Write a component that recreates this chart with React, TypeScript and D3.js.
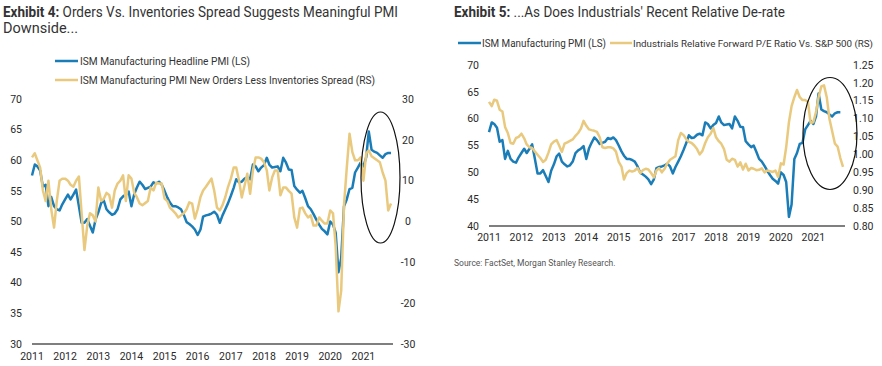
import React from 'react';
import * as d3 from 'd3';

// monthly, Jan 2011 - Nov 2021
const pmi = [
  57.5, 59.3, 59, 58.3, 55.7, 56, 52.5, 54, 52.5, 52, 51.8, 52.8,
  53.6, 54.4, 53.6, 54.4, 55.2, 52.5, 49.8, 49.8, 50.4, 49.3, 48.2, 50.3,
  51.5, 53, 53.5, 52, 51.5, 51.1, 51.3, 52, 53.6, 54.1, 54.4, 54.9,
  52.5, 54.5, 55.5, 56.5, 56, 55.3, 55.5, 55.7, 56.4, 56.2, 56.5, 56,
  55, 53.9, 53.1, 52.5, 52.5, 52.3, 52, 51.1, 49.9, 49.6, 49.2, 48.7,
  47.8, 48.7, 50.8, 51, 51.1, 51.3, 51.6, 51.1, 49.8, 51, 52, 53,
  54.2, 55.5, 56.9, 56.4, 56.5, 57, 57.2, 56.9, 59.3, 59, 58.2, 58.8,
  59.2, 60.4, 59.3, 58.8, 58.9, 59, 58.2, 60.4, 59.6, 58.5, 58.4, 55.8,
  55.2, 54.7, 55, 53.8, 52.5, 52, 51.2, 50.3, 49.5, 48.8, 48.4, 47.9,
  50, 49.5, 48.2, 41.7, 44, 52.5, 53.6, 55.3, 55.5, 58, 58.8, 59.6,
  59, 60.5, 64.7, 61.7, 61.4, 61.2, 60.8, 60.4, 61, 61.2, 61.2,
];

const spread = [
  15.7, 16.7, 15, 13.2, 7.6, 5, 10, 3, -1.5, 5, 10, 10.5,
  10.5, 10, 9, 8.5, 10, 11, 2, -7, -1, 2, 1.5, 0,
  8.3, 5, 5.5, 7, 6.5, 3.4, 7.6, 9.3, 10, 11.3, 5, 11.3,
  10.5, 7, 6, 4.4, 4, 4.5, 5, 8.3, 7.6, 9.5, 9.3, 9.3,
  5.6, 5, 3.4, 2.7, 2, 1, 1.5, 2, 3, 4.7, 4.4, 0.7,
  3, 6, 7.6, 8.5, 9.5, 10.5, 7.6, 3.4, 2.7, 4, 6, 8.5,
  10.5, 13.2, 13.2, 10, 5.9, 8.8, 11.7, 6.8, 12.5, 15.7, 15.7, 15.4,
  14.5, 12.5, 7.6, 10.8, 12.5, 12.5, 6.4, 8.3, 8.3, 7.5, 6.8, 1,
  -1.5, 3.2, 3.4, 2, 1, 1.5, -1, -1, 1, 0.2, -0.5, -0.5,
  2.7, 2, -6, -22, -17, 4, 13, 21.5, 17, 15, 15, 15.7,
  10, 16.7, 17.4, 16, 15.5, 15, 14.5, 12, 10, 2.7, 4.4,
];

// monthly, Jan 2011 - Dec 2021
const relPE = [
  1.147, 1.135, 1.153, 1.15, 1.125, 1.12, 1.077, 1.06, 1.032, 1.03, 1.046, 1.049,
  1.058, 1.045, 1.028, 1.02, 1.018, 1.008, 0.999, 0.99, 0.979, 0.985, 1.005, 1.028,
  1.036, 1.04, 1.025, 1.007, 1.03, 1.034, 1.038, 1.042, 1.052, 1.06, 1.072, 1.094,
  1.08, 1.07, 1.068, 1.066, 1.063, 1.048, 1.02, 1.018, 1.02, 1.02, 1.017, 1.008,
  0.979, 0.966, 0.93, 0.948, 0.955, 0.952, 0.955, 0.962, 0.948, 0.956, 0.96, 0.958,
  0.948, 0.936, 0.955, 0.962, 0.95, 0.96, 0.975, 0.985, 0.99, 0.995, 1.04, 1.06,
  1.054, 1.042, 1.035, 1.032, 1.025, 1.015, 1.0, 1.01, 1.032, 1.048, 1.058, 1.074,
  1.048, 1.037, 1.03, 1.015, 0.985, 0.98, 0.988, 0.985, 0.966, 0.978, 0.958, 0.974,
  0.955, 0.962, 0.96, 0.956, 0.957, 0.961, 0.95, 0.955, 0.953, 0.951, 0.955, 0.937,
  0.975, 0.972, 1.02, 1.09, 1.135, 1.16, 1.18, 1.16, 1.152, 1.152, 1.148, 1.088,
  1.09, 1.12, 1.16, 1.19, 1.193, 1.16, 1.1, 1.065, 1.03, 1.022, 0.99, 0.965,
];

const years = [2011, 2012, 2013, 2014, 2015, 2016, 2017, 2018, 2019, 2020, 2021];
const leftTicks4 = [30, 35, 40, 45, 50, 55, 60, 65, 70];
const rightTicks4 = [-30, -20, -10, 0, 10, 20, 30];
const leftTicks5 = [40, 45, 50, 55, 60, 65, 70];
const rightTicks5 = [0.8, 0.85, 0.9, 0.95, 1.0, 1.05, 1.1, 1.15, 1.2, 1.25];

const BLUE = '#1b7db8';
const GOLD = '#e9c97e';
const FONT = 'Roboto, Arial, sans-serif';

const monthDate = (i: number) => d3.timeMonth.offset(new Date(2011, 0, 1), i);

export default function App() {
  // Exhibit 4
  const x4 = d3.scaleTime().domain([monthDate(0), monthDate(130)]).range([32, 391]);
  const yL4 = d3.scaleLinear().domain([30, 70]).range([344, 99]);
  const yR4 = d3.scaleLinear().domain([-30, 30]).range([344, 99]);
  const linePmi4 = d3.line<number>().x((_, i) => x4(monthDate(i))).y(d => yL4(d));
  const lineSpread = d3.line<number>().x((_, i) => x4(monthDate(i))).y(d => yR4(d));

  // Exhibit 5
  const x5 = d3.scaleTime().domain([monthDate(0), monthDate(131)]).range([489, 843]);
  const yL5 = d3.scaleLinear().domain([40, 70]).range([226, 65]);
  const yR5 = d3.scaleLinear().domain([0.8, 1.25]).range([226, 65]);
  const linePmi5 = d3.line<number>().x((_, i) => x5(monthDate(i))).y(d => yL5(d));
  const linePE = d3.line<number>().x((_, i) => x5(monthDate(i))).y(d => yR5(d));

  const tickStyle = { fontFamily: FONT, fontSize: 10.5, fill: '#2a2a2a' };
  const legStyle = { fontFamily: FONT, fill: '#333', lengthAdjust: 'spacingAndGlyphs' as const };

  return (
    <svg width={882} height={366} style={{ position: 'absolute', left: 0, top: 0, background: '#fff' }}>
      {/* titles */}
      <text x={3} y={17} fontFamily={FONT} fontSize={14.5} fill="#333" textLength={395} lengthAdjust="spacingAndGlyphs">
        <tspan fontWeight="bold">Exhibit 4:</tspan>
        <tspan>{'  Orders Vs. Inventories Spread Suggests Meaningful PMI'}</tspan>
      </text>
      <text x={3} y={33} fontFamily={FONT} fontSize={14.5} fill="#333">Downside...</text>
      <text x={454} y={17} fontFamily={FONT} fontSize={13.8} fill="#333" textLength={331} lengthAdjust="spacingAndGlyphs">
        <tspan fontWeight="bold">Exhibit 5:</tspan>
        <tspan>{'  ...As Does Industrials\' Recent Relative De-rate'}</tspan>
      </text>

      {/* legend 4 */}
      <line x1={55} x2={78} y1={61} y2={61} stroke={BLUE} strokeWidth={2.5} />
      <text x={80} y={64.5} fontSize={10.5} {...legStyle} textLength={170}>ISM Manufacturing Headline PMI (LS)</text>
      <line x1={55} x2={78} y1={80} y2={80} stroke={GOLD} strokeWidth={2.5} />
      <text x={80} y={83.5} fontSize={10.5} {...legStyle} textLength={295}>ISM Manufacturing PMI New Orders Less Inventories Spread (RS)</text>

      {/* legend 5 */}
      <line x1={458} x2={481} y1={43} y2={43} stroke={BLUE} strokeWidth={2.5} />
      <text x={482} y={46.5} fontSize={10} {...legStyle} textLength={124}>ISM Manufacturing PMI (LS)</text>
      <line x1={610} x2={632} y1={43} y2={43} stroke={GOLD} strokeWidth={2.5} />
      <text x={633} y={46.5} fontSize={9.8} {...legStyle} textLength={240}>Industrials Relative Forward P/E Ratio Vs. S&amp;P 500 (RS)</text>

      {/* Exhibit 4 axes */}
      {leftTicks4.map(t => (
        <text key={'l4' + t} x={22} y={yL4(t)} dy="0.35em" textAnchor="end" {...tickStyle}>{t}</text>
      ))}
      {rightTicks4.map(t => (
        <text key={'r4' + t} x={408} y={yR4(t)} dy="0.35em" textAnchor="middle" {...tickStyle}>{t}</text>
      ))}
      {years.map(y => (
        <text key={'x4' + y} x={x4(new Date(y, 0, 1))} y={360} textAnchor="middle" {...tickStyle}>{y}</text>
      ))}
      <line x1={32} x2={393} y1={344} y2={344} stroke="#555" strokeWidth={1.5} />

      <path d={linePmi4(pmi) || ''} fill="none" stroke={BLUE} strokeWidth={2.5} strokeLinejoin="round" />
      <path d={lineSpread(spread) || ''} fill="none" stroke={GOLD} strokeWidth={2.5} strokeLinejoin="round" />
      <ellipse cx={380.5} cy={177.5} rx={19.5} ry={65.5} fill="none" stroke="#111" strokeWidth={1.2} />

      {/* Exhibit 5 axes */}
      {leftTicks5.map(t => (
        <text key={'l5' + t} x={479} y={yL5(t)} dy="0.35em" textAnchor="end" {...tickStyle}>{t}</text>
      ))}
      {rightTicks5.map(t => (
        <text key={'r5' + t} x={853} y={yR5(t)} dy="0.35em" textAnchor="start" {...tickStyle}>{t.toFixed(2)}</text>
      ))}
      {years.map(y => (
        <text key={'x5' + y} x={x5(new Date(y, 0, 1))} y={241} textAnchor="middle" {...tickStyle}>{y}</text>
      ))}
      <line x1={489} x2={845} y1={226} y2={226} stroke="#555" strokeWidth={1.5} />

      <path d={linePmi5(pmi) || ''} fill="none" stroke={BLUE} strokeWidth={2.5} strokeLinejoin="round" />
      <path d={linePE(relPE) || ''} fill="none" stroke={GOLD} strokeWidth={2.5} strokeLinejoin="round" />
      <ellipse cx={830} cy={133.5} rx={27} ry={56} fill="none" stroke="#111" strokeWidth={1.2} />

      <text x={454} y={266} fontFamily={FONT} fontSize={8.5} fill="#555">Source: FactSet, Morgan Stanley Research.</text>
    </svg>
  );
}
